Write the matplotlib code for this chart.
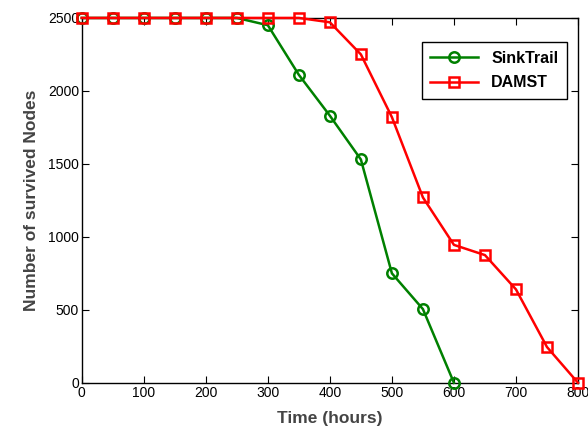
import matplotlib.pyplot as plt

plt.rcParams['font.family'] = ['Liberation Sans', 'DejaVu Sans']

# Datos
tiempo = [0, 50, 100, 150, 200, 250, 300, 350, 400, 450, 500, 550, 600, 650, 700, 750, 800]
sinktrail_t = tiempo[:13]
sinktrail = [2500, 2500, 2500, 2500, 2500, 2500, 2450, 2110, 1830, 1530, 750, 505, 0]
damst = [2500, 2500, 2500, 2500, 2500, 2500, 2500, 2500, 2470, 2250, 1820, 1270, 945, 875, 640, 245, 0]

fig = plt.figure(figsize=(5.88, 4.37), dpi=100)
ax = fig.add_axes([0.139, 0.124, 0.844, 0.835])

ax.plot(sinktrail_t, sinktrail, color='#008000', marker='o', markersize=7.5,
        markerfacecolor='none', markeredgewidth=1.8, linewidth=1.8,
        label='SinkTrail', clip_on=False, zorder=3)
ax.plot(tiempo, damst, color='#ff0000', marker='s', markersize=7.5,
        markerfacecolor='none', markeredgewidth=1.8, linewidth=1.8,
        label='DAMST', clip_on=False, zorder=3)

ax.set_xlim(0, 800)
ax.set_ylim(0, 2500)
ax.set_xticks(range(0, 801, 100))
ax.set_yticks(range(0, 2501, 500))
ax.tick_params(direction='in', top=True, right=True, labelsize=10, length=5, pad=2)
for s in ax.spines.values():
    s.set_linewidth(1.0)

ax.set_xlabel('Time (hours)', fontsize=12.5, fontweight='bold', color='#444444', labelpad=8)
ax.set_ylabel('Number of survived Nodes', fontsize=12.5, fontweight='bold', color='#444444', labelpad=6)

leg = ax.legend(loc='upper right', bbox_to_anchor=(0.978, 0.934), borderaxespad=0,
                fancybox=False, edgecolor='black', prop={'weight': 'bold', 'size': 11.5},
                handlelength=3.0, borderpad=0.55, labelspacing=0.6, framealpha=1)
leg.get_frame().set_linewidth(1.0)

plt.savefig('out.png', dpi=100)
